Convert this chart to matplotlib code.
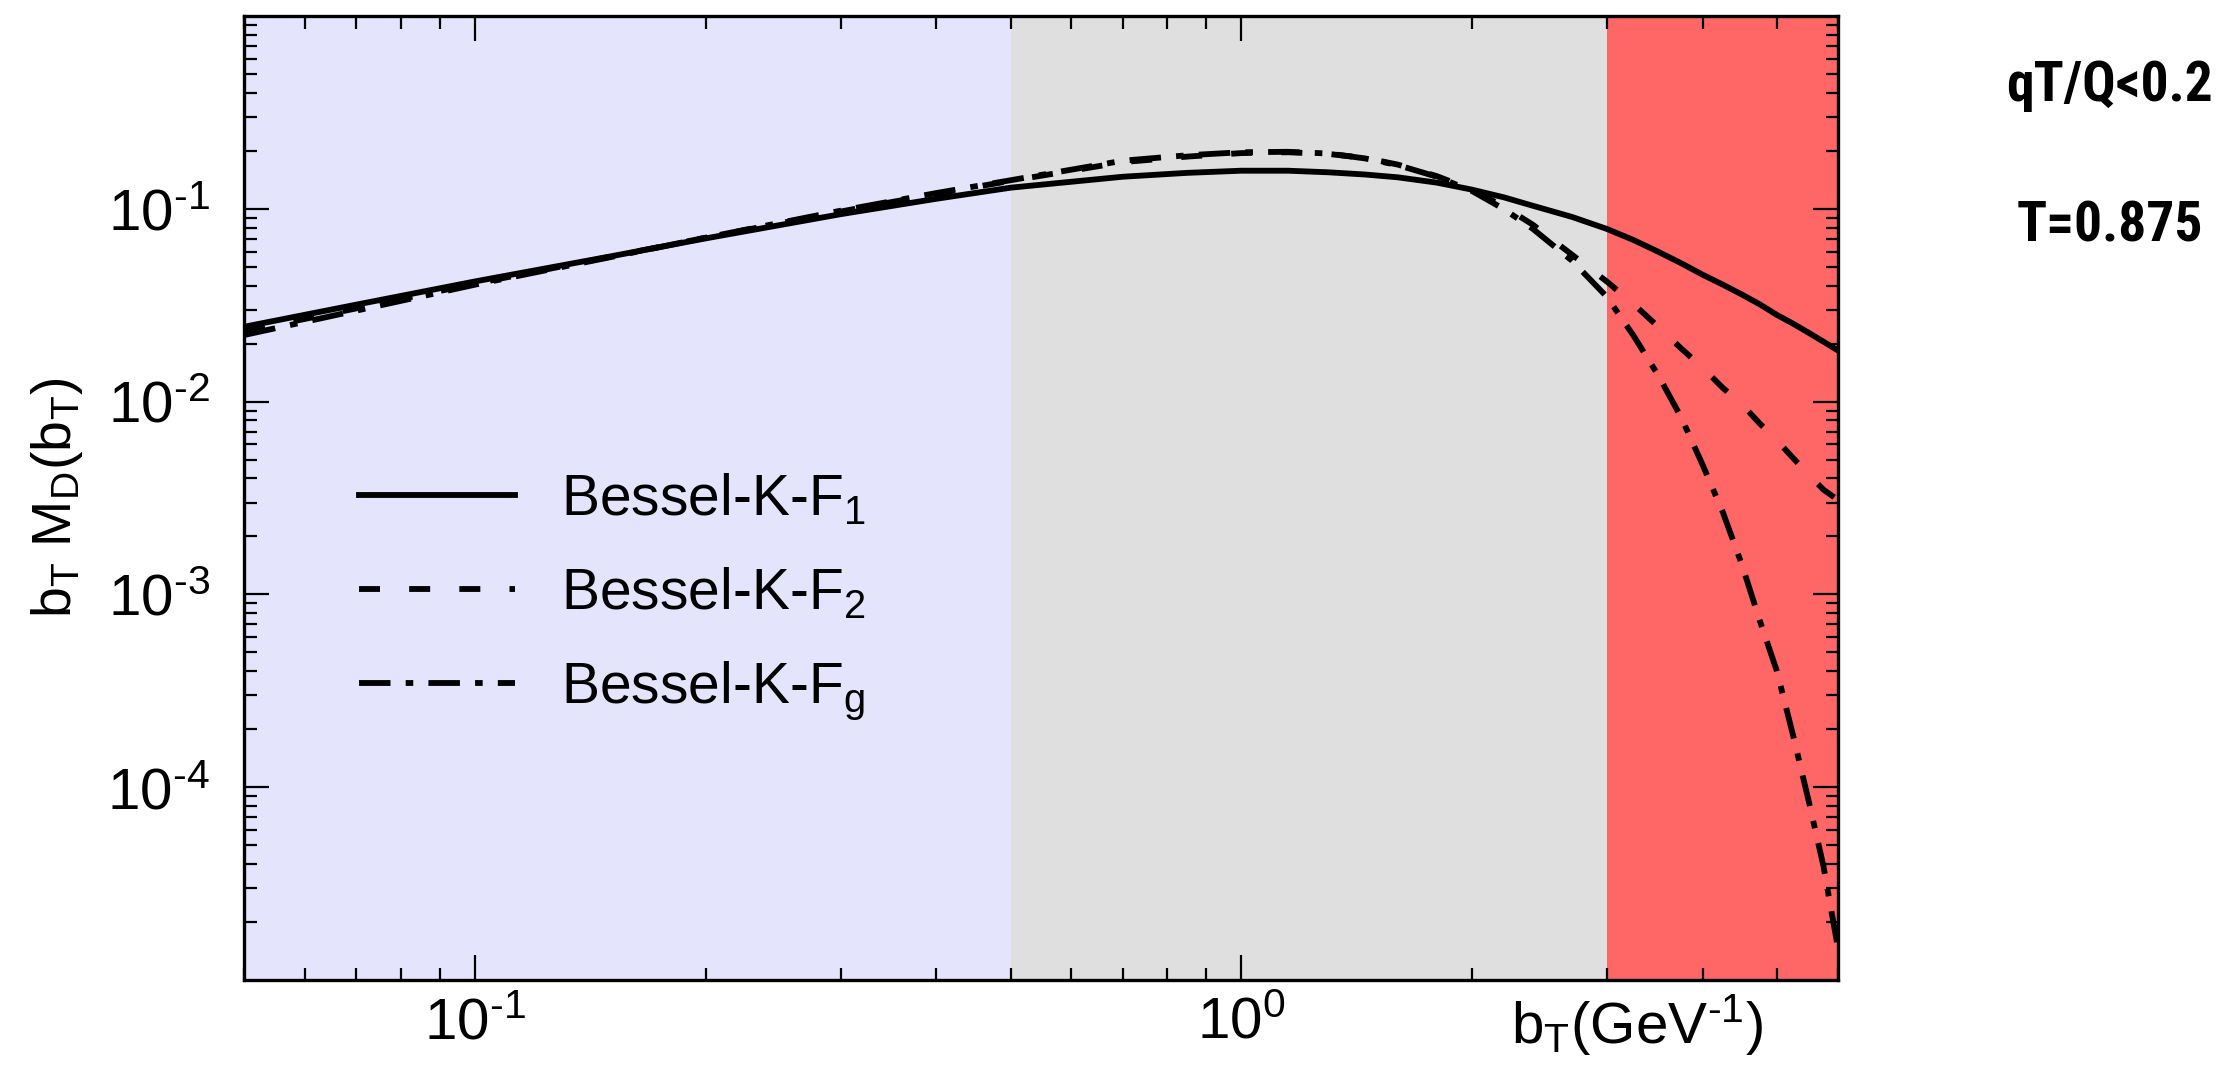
import matplotlib
matplotlib.use("Agg")
import matplotlib.pyplot as plt
from matplotlib import font_manager
from matplotlib.font_manager import FontProperties
from matplotlib.ticker import LogLocator, NullFormatter, FixedLocator, FixedFormatter

ttf = font_manager.fontManager.ttflist

FONT = "Liberation Sans"

# bold condensed font for the annotation at the right
bold_fp = None
for key in ["RobotoCondensed-Bold", "DejaVuSansCondensed-Bold"]:
    hits = [f.fname for f in ttf if key.lower() in f.fname.lower().replace("_", "")]
    if hits:
        bold_fp = FontProperties(fname=hits[0])
        break
if bold_fp is None:
    bold_fp = FontProperties(family="Liberation Sans", weight="bold")
bold_fp.set_size(40)

plt.rcParams["font.family"] = [FONT, "DejaVu Sans"]
plt.rcParams["mathtext.fontset"] = "custom"
plt.rcParams["mathtext.rm"] = FONT
plt.rcParams["mathtext.it"] = FONT
plt.rcParams["mathtext.bf"] = FONT + ":bold"
plt.rcParams["mathtext.default"] = "regular"

# ---------------- data ----------------
bT = [0.05, 0.07, 0.1, 0.15, 0.2, 0.3, 0.4, 0.5, 0.7, 0.85, 1.0, 1.15, 1.3,
      1.45, 1.6, 1.8, 2.0, 2.2, 2.4, 2.7, 3.0, 3.25, 3.5, 3.75, 4.0, 4.25,
      4.5, 4.75, 5.0, 5.25, 5.5, 5.75, 6.0]
F1 = [0.0245, 0.0319, 0.0421, 0.0567, 0.0704, 0.094, 0.113, 0.129, 0.147,
      0.154, 0.158, 0.158, 0.155, 0.151, 0.146, 0.137, 0.126, 0.115, 0.104,
      0.091, 0.0788, 0.069, 0.060, 0.0523, 0.0456, 0.0405, 0.036, 0.032,
      0.0282, 0.0254, 0.0228, 0.0205, 0.0185]
F2 = [0.0232, 0.0305, 0.041, 0.0565, 0.0710, 0.097, 0.120, 0.140, 0.175,
      0.187, 0.195, 0.197, 0.193, 0.184, 0.170, 0.148, 0.126, 0.103, 0.083,
      0.058, 0.042, 0.0321, 0.0245, 0.0189, 0.0150, 0.0118, 0.0097, 0.0077,
      0.0063, 0.0051, 0.0042, 0.0035, 0.0031]
Fg = [0.0222, 0.0297, 0.0405, 0.0562, 0.0710, 0.098, 0.121, 0.141, 0.178,
      0.190, 0.197, 0.198, 0.194, 0.183, 0.169, 0.147, 0.124, 0.100, 0.079,
      0.054, 0.035, 0.022, 0.0137, 0.0083, 0.0047, 0.00267, 0.00143, 7.3e-4,
      4.0e-4, 1.85e-4, 8.5e-5, 3.9e-5, 1.5e-5]
labels = [r"Bessel-K-F$_1$", r"Bessel-K-F$_2$", r"Bessel-K-F$_g$"]

regions = [(0.05, 0.5), (0.5, 3.0), (3.0, 6.0)]
region_colors = ["#e4e4fc", "#dfdfdf", "#ff6666"]

xticks = [0.1, 1.0]
xticklabels = [r"10$^{\text{-1}}$", r"10$^{\text{0}}$"]
yticks = [1e-4, 1e-3, 1e-2, 1e-1]
yticklabels = [r"10$^{\text{-4}}$", r"10$^{\text{-3}}$", r"10$^{\text{-2}}$", r"10$^{\text{-1}}$"]

# ---------------- figure ----------------
fig = plt.figure(figsize=(22.22, 10.84), dpi=100)
ax = fig.add_axes([0.110, 0.096, 0.717, 0.889])

for (a, b), c in zip(regions, region_colors):
    ax.axvspan(a, b, color=c, lw=0, zorder=0)

lw = 4.2
ax.plot(bT, F1, color="black", lw=lw, ls="-", label=labels[0], zorder=3)
ax.plot(bT, F2, color="black", lw=lw, ls=(0, (3.6, 5.0)), label=labels[1], zorder=3)
ax.plot(bT, Fg, color="black", lw=lw, ls=(0, (5.4, 2.6, 1.3, 2.6)), label=labels[2], zorder=3)

ax.set_xscale("log")
ax.set_yscale("log")
ax.set_xlim(0.05, 6.0)
ax.set_ylim(1e-5, 1.0)

ax.xaxis.set_major_locator(FixedLocator(xticks))
ax.xaxis.set_major_formatter(FixedFormatter(xticklabels))
ax.xaxis.set_minor_locator(LogLocator(base=10, subs=range(2, 10), numticks=20))
ax.xaxis.set_minor_formatter(NullFormatter())
ax.yaxis.set_major_locator(FixedLocator(yticks))
ax.yaxis.set_major_formatter(FixedFormatter(yticklabels))
ax.yaxis.set_minor_locator(LogLocator(base=10, subs=range(2, 10), numticks=20))
ax.yaxis.set_minor_formatter(NullFormatter())

ax.tick_params(which="both", direction="in", top=True, right=True,
               width=1.6, labelsize=42, color="black")
ax.tick_params(which="major", length=18)
ax.tick_params(which="minor", length=9)
ax.tick_params(axis="x", which="major", pad=12)
ax.tick_params(axis="y", which="major", pad=25)
for s in ax.spines.values():
    s.set_linewidth(2.4)
    s.set_zorder(5)

ax.set_ylabel(r"b$_T$ M$_D$(b$_T$)", fontsize=40, labelpad=16)
ax.text(0.874, -0.012, r"b$_T$(GeV$^{\text{-1}}$)", transform=ax.transAxes,
        fontsize=42, ha="center", va="top")

leg = ax.legend(loc="upper left", bbox_to_anchor=(0.040, 0.58), frameon=False,
                fontsize=41, handlelength=2.74, handletextpad=0.8,
                labelspacing=0.68)

fig.text(0.9495, 0.921, "qT/Q<0.2", fontproperties=bold_fp,
         ha="center", va="center")
fig.text(0.9495, 0.791, "T=0.875", fontproperties=bold_fp,
         ha="center", va="center")

fig.savefig("out.png", dpi=100)
